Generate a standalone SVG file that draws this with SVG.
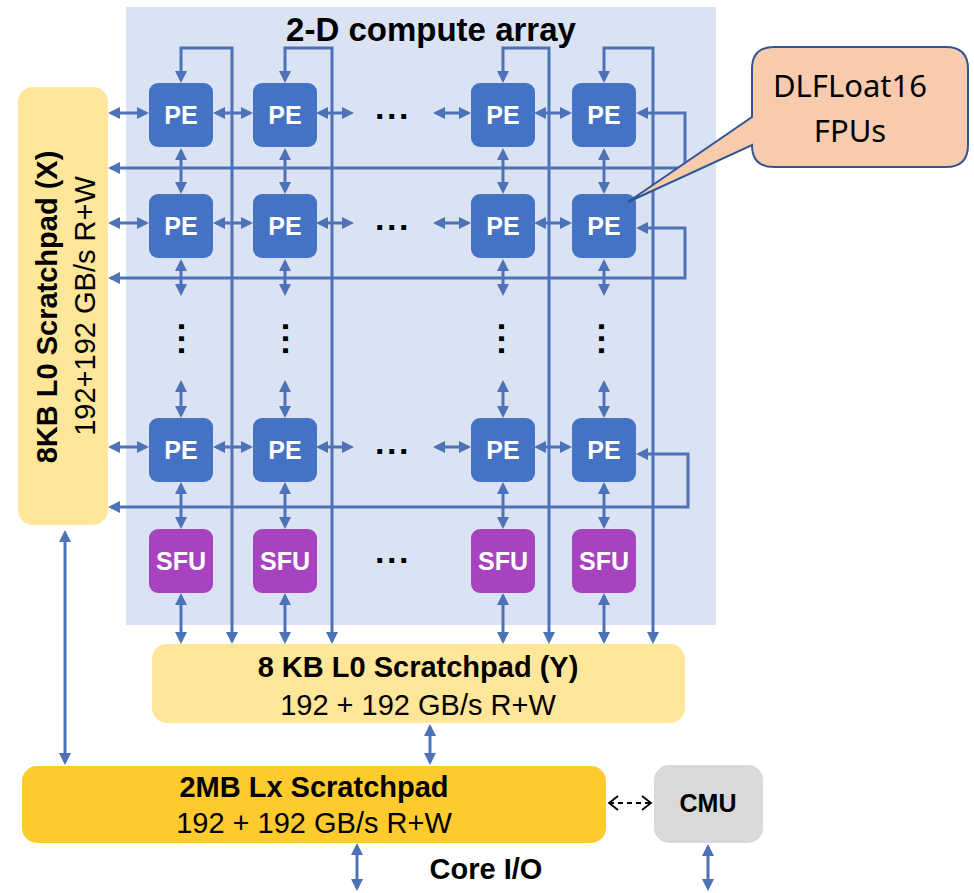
<svg xmlns="http://www.w3.org/2000/svg" width="974" height="893" viewBox="0 0 974 893">
  <style>
    .bg { fill: #DAE3F3; }
    .pe { fill: #4472C4; }
    .sfu { fill: #A843C0; }
    .pad { fill: #FFE699; }
    .lx { fill: #FECB2F; }
    .cmu { fill: #D9D9D9; }
    .lbl { font-family: "Liberation Sans", Arial, sans-serif; font-weight: bold; font-size: 25px; fill: #FFFFFF; text-anchor: middle; }
    .bold { font-family: "Liberation Sans", Arial, sans-serif; font-weight: bold; font-size: 29px; fill: #000000; text-anchor: middle; }
    .reg { font-family: "Liberation Sans", Arial, sans-serif; font-size: 29px; fill: #000000; text-anchor: middle; }
    .dots { font-family: "Liberation Sans", Arial, sans-serif; font-weight: bold; font-size: 34px; letter-spacing: 2.5px; fill: #000000; text-anchor: middle; }
    .call { font-family: "Noto Sans", "Open Sans", sans-serif; font-size: 31px; fill: #000000; text-anchor: middle; }
    #connectors path { fill: none; stroke: #4E72B8; stroke-width: 3; marker-start: url(#ah); marker-end: url(#ah); }
    #connectors path.dash { stroke: #000000; stroke-width: 1.8; stroke-dasharray: 5 4; marker-start: url(#chev); marker-end: url(#chev); }
  </style>
  <defs>
    <marker id="ah" markerUnits="userSpaceOnUse" viewBox="0 0 12 12" markerWidth="12" markerHeight="12" refX="9" refY="6" orient="auto-start-reverse">
      <path d="M0,0 L12,6 L0,12 Z" fill="#4E72B8"/>
    </marker>
    <marker id="chev" markerUnits="userSpaceOnUse" viewBox="0 0 12 16" markerWidth="12" markerHeight="16" refX="10" refY="8" orient="auto-start-reverse">
      <path d="M1,1 L10,8 L1,15" fill="none" stroke="#000000" stroke-width="1.8"/>
    </marker>
  </defs>

  <!-- compute array backdrop -->
  <g id="compute-array">
    <rect class="bg" x="126" y="7" width="590" height="618"/>
    <text class="bold" x="431" y="41" style="font-size:33px">2-D compute array</text>
  </g>

  <!-- connectors -->
  <g id="connectors">
    <!-- horizontal links, PE row 1 -->
    <path d="M111,113 H146"/><path d="M216,113 H250"/><path d="M319,113 H351"/><path d="M436,113 H468"/><path d="M537,113 H569"/>
    <!-- horizontal links, PE row 2 -->
    <path d="M111,223 H146"/><path d="M216,223 H250"/><path d="M319,223 H351"/><path d="M436,223 H468"/><path d="M537,223 H569"/>
    <!-- horizontal links, last PE row -->
    <path d="M111,447 H146"/><path d="M216,447 H250"/><path d="M319,447 H351"/><path d="M436,447 H468"/><path d="M537,447 H569"/>
    <!-- right-edge loops back to the X scratchpad -->
    <path d="M639,113 H685 V168 H111"/>
    <path d="M639,228 H685 V278 H111"/>
    <path d="M639,454 H688 V507 H111"/>
    <!-- top loops from the Y scratchpad -->
    <path d="M232,641 V48 H181 V80"/>
    <path d="M332,641 V48 H285 V80"/>
    <path d="M549,641 V48 H503 V80"/>
    <path d="M653,641 V48 H604 V80"/>
    <!-- vertical links, column 1 -->
    <path d="M181,151 V191"/><path d="M181,262 V293"/><path d="M181,383 V415"/><path d="M181,485 V526"/><path d="M181,596 V641"/>
    <!-- vertical links, column 2 -->
    <path d="M285,151 V191"/><path d="M285,262 V293"/><path d="M285,383 V415"/><path d="M285,485 V526"/><path d="M285,596 V641"/>
    <!-- vertical links, column 3 -->
    <path d="M503,151 V191"/><path d="M503,262 V293"/><path d="M503,383 V415"/><path d="M503,485 V526"/><path d="M503,596 V641"/>
    <!-- vertical links, column 4 -->
    <path d="M604,151 V191"/><path d="M604,262 V293"/><path d="M604,383 V415"/><path d="M604,485 V526"/><path d="M604,596 V641"/>
    <!-- scratchpad hierarchy -->
    <path d="M65,533 V762"/>
    <path d="M430,727 V762"/>
    <path d="M357,846 V888"/>
    <path d="M708,847 V888"/>
    <!-- Lx to CMU -->
    <path class="dash" d="M609,803 H651"/>
  </g>

  <!-- ellipses between rows and columns -->
  <g id="ellipses">
    <text class="dots" x="393" y="119">...</text>
    <text class="dots" x="393" y="230">...</text>
    <text class="dots" x="393" y="454">...</text>
    <text class="dots" x="393" y="563">...</text>
    <text class="dots" transform="translate(181,340) rotate(90)" x="0" y="2">...</text>
    <text class="dots" transform="translate(285,340) rotate(90)" x="0" y="2">...</text>
    <text class="dots" transform="translate(501,340) rotate(90)" x="0" y="2">...</text>
    <text class="dots" transform="translate(601,340) rotate(90)" x="0" y="2">...</text>
  </g>

  <!-- processing elements -->
  <g id="pe-r1c1"><rect class="pe" x="149" y="83" width="64" height="64" rx="9"/><text class="lbl" x="181" y="124">PE</text></g>
  <g id="pe-r1c2"><rect class="pe" x="253" y="83" width="64" height="64" rx="9"/><text class="lbl" x="285" y="124">PE</text></g>
  <g id="pe-r1c3"><rect class="pe" x="471" y="83" width="64" height="64" rx="9"/><text class="lbl" x="503" y="124">PE</text></g>
  <g id="pe-r1c4"><rect class="pe" x="572" y="83" width="64" height="64" rx="9"/><text class="lbl" x="604" y="124">PE</text></g>
  <g id="pe-r2c1"><rect class="pe" x="149" y="194" width="64" height="64" rx="9"/><text class="lbl" x="181" y="235">PE</text></g>
  <g id="pe-r2c2"><rect class="pe" x="253" y="194" width="64" height="64" rx="9"/><text class="lbl" x="285" y="235">PE</text></g>
  <g id="pe-r2c3"><rect class="pe" x="471" y="194" width="64" height="64" rx="9"/><text class="lbl" x="503" y="235">PE</text></g>
  <g id="pe-r2c4"><rect class="pe" x="572" y="194" width="64" height="64" rx="9"/><text class="lbl" x="604" y="235">PE</text></g>
  <g id="pe-r3c1"><rect class="pe" x="149" y="418" width="64" height="64" rx="9"/><text class="lbl" x="181" y="459">PE</text></g>
  <g id="pe-r3c2"><rect class="pe" x="253" y="418" width="64" height="64" rx="9"/><text class="lbl" x="285" y="459">PE</text></g>
  <g id="pe-r3c3"><rect class="pe" x="471" y="418" width="64" height="64" rx="9"/><text class="lbl" x="503" y="459">PE</text></g>
  <g id="pe-r3c4"><rect class="pe" x="572" y="418" width="64" height="64" rx="9"/><text class="lbl" x="604" y="459">PE</text></g>

  <!-- special function units -->
  <g id="sfu-c1"><rect class="sfu" x="149" y="529" width="64" height="64" rx="9"/><text class="lbl" x="181" y="570">SFU</text></g>
  <g id="sfu-c2"><rect class="sfu" x="253" y="529" width="64" height="64" rx="9"/><text class="lbl" x="285" y="570">SFU</text></g>
  <g id="sfu-c3"><rect class="sfu" x="471" y="529" width="64" height="64" rx="9"/><text class="lbl" x="503" y="570">SFU</text></g>
  <g id="sfu-c4"><rect class="sfu" x="572" y="529" width="64" height="64" rx="9"/><text class="lbl" x="604" y="570">SFU</text></g>

  <!-- X scratchpad -->
  <g id="scratchpad-x">
    <rect class="pad" x="18" y="87" width="90" height="438" rx="15"/>
    <text class="bold" transform="translate(57,307) rotate(-90)">8KB L0 Scratchpad (X)</text>
    <text class="reg" transform="translate(95,306) rotate(-90)">192+192 GB/s R+W</text>
  </g>

  <!-- Y scratchpad -->
  <g id="scratchpad-y">
    <rect class="pad" x="152" y="644" width="533" height="79" rx="15"/>
    <text class="bold" x="418" y="677">8 KB L0 Scratchpad (Y)</text>
    <text class="reg" x="418" y="715">192 + 192 GB/s R+W</text>
  </g>

  <!-- Lx scratchpad -->
  <g id="scratchpad-lx">
    <rect class="lx" x="22" y="766" width="584" height="77" rx="15"/>
    <text class="bold" x="314" y="797">2MB Lx Scratchpad</text>
    <text class="reg" x="314" y="833">192 + 192 GB/s R+W</text>
  </g>

  <!-- CMU -->
  <g id="cmu">
    <rect class="cmu" x="654" y="765" width="109" height="78" rx="15"/>
    <text class="bold" x="708" y="812" style="font-size:25px">CMU</text>
  </g>

  <g id="core-io">
    <text class="bold" x="486" y="879">Core I/O</text>
  </g>

  <!-- callout -->
  <g id="fpu-callout">
    <path d="M774,47 H946 Q968,47 968,69 V145 Q968,167 946,167 H774 Q752,167 752,145 L628,202 L752,117 V69 Q752,47 774,47 Z" fill="#F8CBAD" stroke="#2F5597" stroke-width="2"/>
    <text class="call" x="850" y="97">DLFLoat16</text>
    <text class="call" x="850" y="142">FPUs</text>
  </g>
</svg>
